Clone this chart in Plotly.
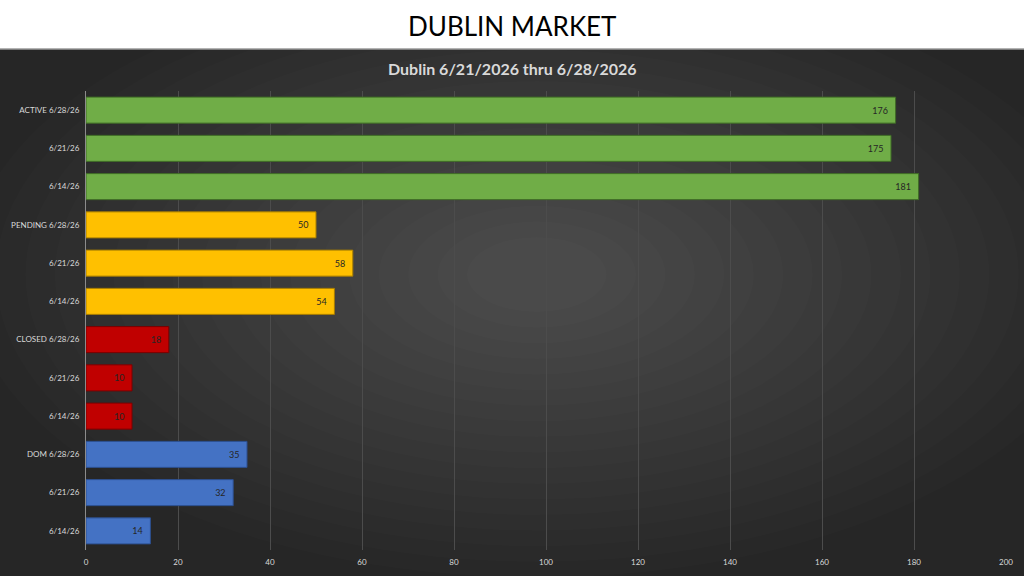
import plotly.graph_objects as go

# ===== DATA =====
bar_labels = ["ACTIVE 6/28/26", "6/21/26", "6/14/26",
              "PENDING 6/28/26", "6/21/26", "6/14/26",
              "CLOSED 6/28/26", "6/21/26", "6/14/26",
              "DOM 6/28/26", "6/21/26", "6/14/26"]
bar_values = [176, 175, 181, 50, 58, 54, 18, 10, 10, 35, 32, 14]
bar_groups = ["ACTIVE"] * 3 + ["PENDING"] * 3 + ["CLOSED"] * 3 + ["DOM"] * 3
x_ticks = [0, 20, 40, 60, 80, 100, 120, 140, 160, 180, 200]

group_colors = {"ACTIVE": "#70ad47", "PENDING": "#ffc000", "CLOSED": "#c00000", "DOM": "#4472c4"}
group_edges = {"ACTIVE": "#3f6b26", "PENDING": "#a67c00", "CLOSED": "#7a0000", "DOM": "#2c4f8f"}

positions = list(range(len(bar_labels)))

fig = go.Figure()
fig.add_trace(go.Bar(
    x=bar_values, y=positions, orientation="h",
    marker=dict(color=[group_colors[g] for g in bar_groups],
                line=dict(color=[group_edges[g] for g in bar_groups], width=1)),
    text=bar_values, texttemplate="%{text}\u00a0\u00a0", textposition="inside", insidetextanchor="end",
    textfont=dict(family="Lato", size=9, color="#262626"),
    hoverinfo="x+y",
))

# plot area spans pixels y 91..550 (459 px), x 86..1006; header line sits at pixel 49
top_px, bot_px = 91, 550
left_px, right_px = 86, 1006
def py(px):
    return (bot_px - px) / (bot_px - top_px)
def px_(px):
    return (px - left_px) / (right_px - left_px)

# dark slide background below the white header, with a soft lighter centre
shapes = [dict(type="rect", xref="paper", yref="paper", x0=-1, x1=2, y0=-1, y1=py(49),
               fillcolor="#262626", line=dict(width=0), layer="below")]
n_rings = 18
for i in range(n_rings):
    rx = 0.62 - i * 0.032
    ry = 0.66 - i * 0.034
    shapes.append(dict(type="circle", xref="paper", yref="paper",
                       x0=0.49 - rx, x1=0.49 + rx, y0=0.6 - ry, y1=0.6 + ry,
                       fillcolor="rgba(255,255,255,0.0105)", line=dict(width=0), layer="below"))
shapes.append(dict(type="rect", xref="paper", yref="paper", x0=-1, x1=2, y0=py(49), y1=3,
                   fillcolor="white", line=dict(width=0), layer="below"))
shapes.append(dict(type="line", xref="paper", yref="paper", x0=-1, x1=2, y0=py(49), y1=py(49),
                   line=dict(color="#9a9a9a", width=1.5), layer="below"))

fig.update_layout(
    width=1024, height=576,
    margin=dict(l=left_px, r=1024 - right_px, t=top_px, b=576 - bot_px),
    paper_bgcolor="white", plot_bgcolor="rgba(0,0,0,0)",
    shapes=shapes, showlegend=False, bargap=0.32,
    annotations=[
        dict(text="DUBLIN MARKET", xref="paper", yref="paper", x=px_(512), y=py(26), yanchor="middle",
             showarrow=False, font=dict(family="Lato", size=26, color="black")),
        dict(text="<b>Dublin 6/21/2026 thru 6/28/2026</b>", xref="paper", yref="paper", x=px_(512), y=py(68),
             yanchor="middle", showarrow=False, font=dict(family="Lato", size=16, color="#d9d9d9")),
    ],
)
fig.update_xaxes(range=[0, 200], tickvals=x_ticks, showgrid=True, gridcolor="#4c4c4c", gridwidth=1,
                 zeroline=False, automargin=False, ticklabelstandoff=6,
                 tickfont=dict(family="Lato", size=8, color="#d9d9d9"), fixedrange=True)
fig.update_yaxes(range=[len(bar_labels) - 0.5, -0.5], tickvals=positions, ticktext=bar_labels,
                 showgrid=False, zeroline=False, showline=True, linecolor="#8c8c8c",
                 ticks="", ticklabelstandoff=4, automargin=False,
                 tickfont=dict(family="Lato", size=8, color="#d9d9d9"), fixedrange=True)

# drop the default page margin so the figure sits flush in the window
fig.write_html("out.html", config={"displayModeBar": False},
               post_script="document.body.style.margin='0';")
